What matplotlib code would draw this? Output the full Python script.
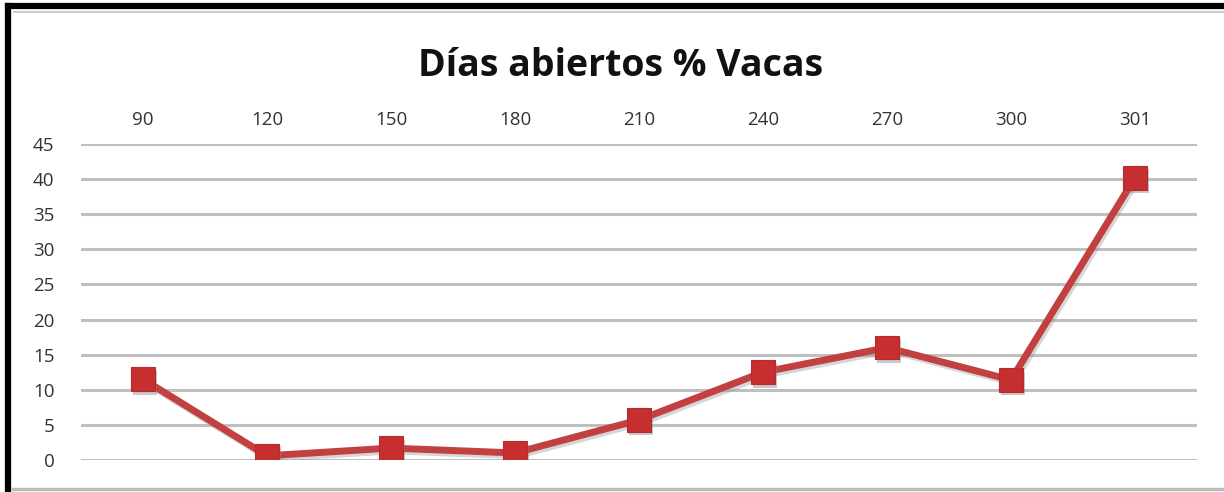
import matplotlib
matplotlib.use("Agg")
import matplotlib.pyplot as plt
import matplotlib.patheffects as pe
from matplotlib.lines import Line2D

categories = ["90", "120", "150", "180", "210", "240", "270", "300", "301"]
values = [11.5, 0.6, 1.7, 1.0, 5.7, 12.5, 16.0, 11.4, 40.2]
y_ticks = [0, 5, 10, 15, 20, 25, 30, 35, 40, 45]
title = "Días abiertos % Vacas"

plt.rcParams['font.family'] = ['Open Sans', 'DejaVu Sans']

W, H = 1224, 492
fig = plt.figure(figsize=(W / 100, H / 100), dpi=100)
ax = fig.add_axes([81 / W, (H - 460) / H, (1197 - 81) / W, (460 - 144) / H])

x = list(range(len(categories)))
ax.plot(x, values, color="#C2403F", lw=5, zorder=3, solid_joinstyle="round",
        path_effects=[pe.SimpleLineShadow(offset=(1.5, -2), shadow_color="#999999", alpha=0.4), pe.Normal()])
ax.plot(x, values, linestyle="none", marker="s", markersize=17,
        markerfacecolor="#C62F30", markeredgecolor="#B82A2B", markeredgewidth=0.8, zorder=4,
        path_effects=[pe.SimplePatchShadow(offset=(1.5, -2.5), shadow_rgbFace="#888888", alpha=0.45), pe.Normal()])

ax.set_xlim(-0.5, len(categories) - 0.5)
ax.set_ylim(0, 45)
ax.set_yticks(y_ticks)
ax.set_yticklabels([str(v) for v in y_ticks])
ax.set_xticks(x)
ax.set_xticklabels(categories)
ax.xaxis.tick_top()
ax.tick_params(axis="both", length=0, labelsize=13.5, colors="#333333")
ax.tick_params(axis="x", pad=11)
ax.tick_params(axis="y", pad=19)
ax.grid(axis="y", color="#BFBFBF", lw=2.2)
ax.set_axisbelow(True)
for s in ax.spines.values():
    s.set_visible(False)

fig.text(621 / W, 1 - 66 / H, title, ha="center", va="center", fontsize=27, fontweight="bold", color="#111111")

# frame
fig.add_artist(Line2D([8 / W, 8 / W], [1 - 6 / H, 0], transform=fig.transFigure, color="black", lw=4.5))
fig.add_artist(Line2D([8 / W, 1], [1 - 6 / H, 1 - 6 / H], transform=fig.transFigure, color="black", lw=4.5))
fig.add_artist(Line2D([14 / W, 1], [1 - 12 / H, 1 - 12 / H], transform=fig.transFigure, color="#CCCCCC", lw=1.5))
fig.add_artist(Line2D([13 / W, 1], [1 - 489 / H, 1 - 489 / H], transform=fig.transFigure, color="#BBBBBB", lw=2.5))

fig.savefig("out.png", dpi=100)
